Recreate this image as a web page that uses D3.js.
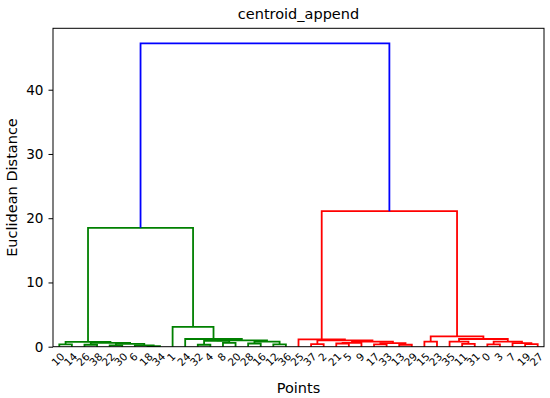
<!DOCTYPE html>
<html>
<head>
<meta charset="UTF-8">
<script src="https://d3js.org/d3.v7.min.js"></script>
<style>
  body { margin: 0; background: #fff; }
  svg { font-family: "DejaVu Sans", sans-serif; }
</style>
</head>
<body>
<div id="chart"></div>
<script>
// leaf order along the x axis, as printed under the plot
var leafLabels = [10, 14, 26, 38, 22, 30, 6, 18, 34, 1, 24, 32, 4, 8, 20, 28, 16, 12, 36,
                  25, 37, 2, 21, 5, 9, 17, 33, 13, 29, 15, 23, 35, 11, 31, 0, 3, 7, 19, 27];

// merges, scipy style: [left child, right child, distance]; new node ids start at 39
var merges = [
  [18, 34, 0.1], [6, 39, 0.2], [22, 30, 0.2], [41, 40, 0.45], [26, 38, 0.3],
  [43, 42, 0.6], [10, 14, 0.35], [45, 44, 0.75],
  [32, 4, 0.3], [8, 20, 0.6], [47, 48, 0.9], [28, 16, 0.5], [12, 36, 0.35],
  [50, 51, 0.8], [49, 52, 1.0], [24, 53, 1.2], [1, 54, 3.1],
  [46, 55, 18.5],
  [37, 2, 0.4], [21, 5, 0.5], [58, 9, 0.6], [17, 33, 0.35], [13, 29, 0.3],
  [60, 61, 0.55], [59, 62, 0.8], [57, 63, 1.0], [25, 64, 1.15],
  [15, 23, 0.8], [11, 31, 0.45], [35, 67, 0.8], [0, 3, 0.35], [19, 27, 0.4],
  [7, 70, 0.55], [69, 71, 0.8], [68, 72, 1.2], [66, 73, 1.6],
  [65, 74, 21.1],
  [56, 75, 47.2]
];

var yTicks = [0, 10, 20, 30, 40];
var clusterColors = ["#008000", "#ff0000"];
var aboveColor = "#0000ff";

var W = 550, H = 398;
var axL = 53, axR = 544, axT = 28.3, axB = 346.7;
var n = leafLabels.length;

var svg = d3.select("#chart").append("svg")
    .attr("width", W)
    .attr("height", H);

var maxH = d3.max(merges, function(d){ return d[2]; });
var x = d3.scaleLinear().domain([0, n * 10]).range([axL, axR]);
var y = d3.scaleLinear().domain([0, maxH * 1.05]).range([axB, axT]);

// node positions (scipy: leaf i at 5 + 10*i, parents at the middle of children)
var pos = {};
leafLabels.forEach(function(lab, i){
  pos[lab] = {x: 5 + 10 * i, h: 0, leaf: true};
});
merges.forEach(function(m, k){
  var a = pos[m[0]], b = pos[m[1]];
  pos[n + k] = {x: (a.x + b.x) / 2, h: m[2], leaf: false, kids: [m[0], m[1]]};
});

// colour clusters below the threshold (0.7 * max, scipy default)
var thr = 0.7 * maxH;
var colorOf = {};
var ci = 0;
function paint(id, col){
  colorOf[id] = col;
  var p = pos[id];
  if (!p.leaf) { paint(p.kids[0], col); paint(p.kids[1], col); }
}
function walk(id){
  var p = pos[id];
  if (p.leaf) return;
  if (p.h < thr) { paint(id, clusterColors[ci % clusterColors.length]); ci++; return; }
  colorOf[id] = aboveColor;
  walk(p.kids[0]); walk(p.kids[1]);
}
walk(n + merges.length - 1);

var links = svg.append("g");
merges.forEach(function(m, k){
  var a = pos[m[0]], b = pos[m[1]];
  var pts = [[a.x, a.h], [a.x, m[2]], [b.x, m[2]], [b.x, b.h]];
  links.append("path")
    .attr("d", d3.line().x(function(d){ return x(d[0]); }).y(function(d){ return y(d[1]); })(pts))
    .attr("fill", "none")
    .attr("stroke", colorOf[n + k])
    .attr("stroke-width", 1.8);
});

// frame
svg.append("rect")
  .attr("x", axL).attr("y", axT)
  .attr("width", axR - axL).attr("height", axB - axT)
  .attr("fill", "none").attr("stroke", "#000").attr("stroke-width", 1);

// y axis
var yAxis = svg.append("g")
  .attr("transform", "translate(" + axL + ",0)")
  .call(d3.axisLeft(y).tickValues(yTicks).tickSize(4.5).tickPadding(5));
yAxis.select(".domain").remove();
yAxis.selectAll("text").attr("font-size", "13.6px").attr("fill", "#000")
  .attr("font-family", "DejaVu Sans, sans-serif");
yAxis.selectAll("line").attr("stroke", "#000");

// leaf labels, rotated 45 degrees, centred under each leaf
var fs = 10.5;
var lab = svg.append("g");
leafLabels.forEach(function(l, i){
  var t = lab.append("text")
    .attr("font-size", fs + "px")
    .attr("text-anchor", "middle")
    .attr("dominant-baseline", "central")
    .text(l);
  var L = t.node().getComputedTextLength();
  var half = (L + fs * 0.75) * Math.SQRT1_2 / 2;
  var cx = x(5 + 10 * i) - 1.5, cy = axB + 5 + half;
  t.attr("transform", "translate(" + cx + "," + cy + ") rotate(-45)");
});

// title and axis labels
svg.append("text")
  .attr("x", (axL + axR) / 2).attr("y", 19)
  .attr("text-anchor", "middle").attr("font-size", "14.5px")
  .text("centroid_append");

svg.append("text")
  .attr("x", (axL + axR) / 2).attr("y", 393)
  .attr("text-anchor", "middle").attr("font-size", "14.5px")
  .text("Points");

svg.append("text")
  .attr("transform", "translate(17," + ((axT + axB) / 2) + ") rotate(-90)")
  .attr("text-anchor", "middle").attr("font-size", "14.5px")
  .text("Euclidean Distance");
</script>
</body>
</html>
